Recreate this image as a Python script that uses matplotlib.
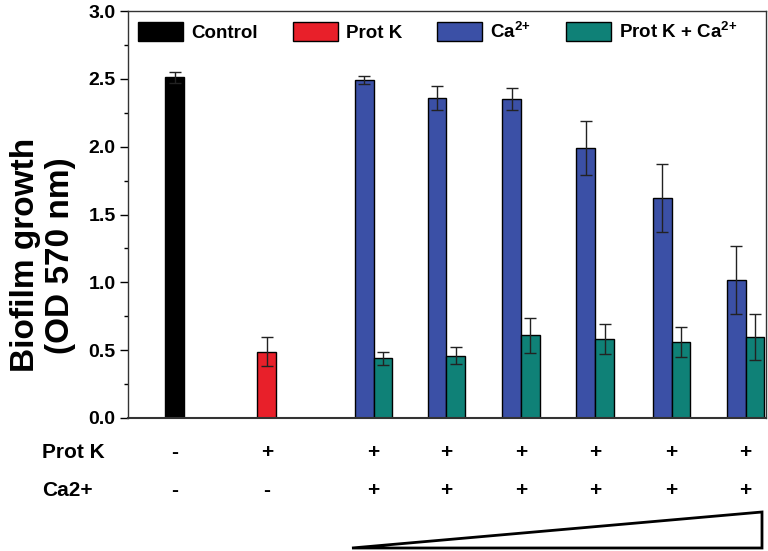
import matplotlib
matplotlib.use('Agg')
import matplotlib.pyplot as plt
from matplotlib.patches import Patch, Polygon
import numpy as np

plt.rcParams['font.family'] = ['Liberation Sans', 'DejaVu Sans']
plt.rcParams['font.weight'] = 'bold'
plt.rcParams['mathtext.fontset'] = 'custom'
plt.rcParams['mathtext.bf'] = 'Liberation Sans:bold'
plt.rcParams['mathtext.rm'] = 'Liberation Sans:bold'

# data
control = [2.51]
control_err = [0.04]
protk = [0.49]
protk_err = [0.11]
ca = [2.49, 2.36, 2.35, 1.99, 1.62, 1.02]
ca_err = [0.03, 0.09, 0.08, 0.20, 0.25, 0.25]
protk_ca = [0.44, 0.46, 0.61, 0.58, 0.56, 0.60]
protk_ca_err = [0.05, 0.06, 0.13, 0.11, 0.11, 0.17]
protk_signs = ['-', '+', '+', '+', '+', '+', '+', '+']
ca_signs = ['-', '-', '+', '+', '+', '+', '+', '+']

# group centres (axis units)
centers = np.array([0.60, 1.78, 3.15, 4.08, 5.04, 5.99, 6.97, 7.92])
w = 0.24

c_black = '#000000'
c_red = '#e8202a'
c_blue = '#3b50a6'
c_teal = '#0f8177'

fig = plt.figure(figsize=(7.68, 5.51), dpi=100)
ax = fig.add_axes([128/768, 1 - 418/551, 638/768, 407/551])

ekw = dict(ecolor='#222222', elinewidth=1, capsize=4, capthick=1)
ax.bar(centers[0], control, w, yerr=control_err, color=c_black, edgecolor='black', linewidth=1, error_kw=ekw)
ax.bar(centers[1], protk, w, yerr=protk_err, color=c_red, edgecolor='black', linewidth=1, error_kw=ekw)
ax.bar(centers[2:] - w/2, ca, w, yerr=ca_err, color=c_blue, edgecolor='black', linewidth=1, error_kw=ekw)
ax.bar(centers[2:] + w/2, protk_ca, w, yerr=protk_ca_err, color=c_teal, edgecolor='black', linewidth=1, error_kw=ekw)

ax.set_xlim(0, 8.18)
ax.set_ylim(0, 3.0)
ax.set_xticks([])
ax.set_yticks(np.arange(0, 3.01, 0.5))
ax.set_yticks(np.arange(0.25, 3.0, 0.5), minor=True)
ax.tick_params(axis='y', which='major', length=6, width=1, labelsize=14, direction='out', pad=3)
ax.tick_params(axis='y', which='minor', length=3, width=1)
for lab in ax.get_yticklabels():
    lab.set_fontweight('bold')
for s in ax.spines.values():
    s.set_color('#333333')
    s.set_linewidth(1)
ax.spines['bottom'].set_linewidth(1.5)

ax.set_ylabel('Biofilm growth\n(OD 570 nm)', fontsize=24, fontweight='bold', linespacing=1.15)
ax.yaxis.set_label_coords(-0.082, 0.40)

handles = [Patch(facecolor=c_black, edgecolor='black'),
           Patch(facecolor=c_red, edgecolor='black'),
           Patch(facecolor=c_blue, edgecolor='black'),
           Patch(facecolor=c_teal, edgecolor='black')]
labels = ['Control', 'Prot K', r'Ca$^{\mathbf{2{+}}}$', r'Prot K + Ca$^{\mathbf{2{+}}}$']
ax.legend(handles, labels, ncol=4, loc='upper left', bbox_to_anchor=(0.0, 1.0),
          frameon=False, handlelength=2.4, handleheight=1.2,
          handletextpad=0.4, columnspacing=1.9, borderaxespad=0.15,
          prop={'weight': 'bold', 'size': 13.5})

# condition table under the axis
fig.text(42/768, 1 - 452/551, 'Prot K', fontsize=15, fontweight='bold', va='center', ha='left')
fig.text(42/768, 1 - 490/551, 'Ca2+', fontsize=15, fontweight='bold', va='center', ha='left')
for x, p, c in zip(centers, protk_signs, ca_signs):
    xf = (128 + x * 638 / 8.18) / 768
    fig.text(xf, 1 - 452/551, p, fontsize=15, fontweight='bold', ha='center', va='center')
    fig.text(xf, 1 - 490/551, c, fontsize=15, fontweight='bold', ha='center', va='center')

# concentration wedge
tri = Polygon([[352/768, 1 - 548/551], [762/768, 1 - 512/551], [762/768, 1 - 548/551]],
              closed=True, fill=False, edgecolor='black', linewidth=2, transform=fig.transFigure)
fig.patches.append(tri)

plt.savefig('out.png', dpi=100)
plt.close()
